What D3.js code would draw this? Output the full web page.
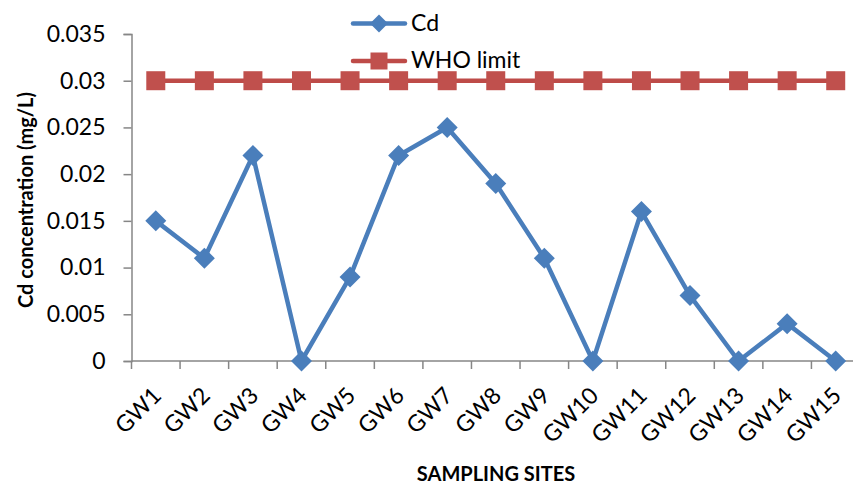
<!DOCTYPE html>
<html>
<head>
<meta charset="utf-8">
<script src="https://cdn.jsdelivr.net/npm/d3@7"></script>
<style>
  body { margin: 0; background: #fff; }
  svg { display: block; font-family: Lato, "Open Sans", sans-serif; }
</style>
</head>
<body>
<svg id="chart" width="853" height="484"></svg>
<script>
// Sampling sites and measured cadmium concentrations (mg/L)
const sites = ["GW1","GW2","GW3","GW4","GW5","GW6","GW7","GW8","GW9","GW10","GW11","GW12","GW13","GW14","GW15"];
const cdValues = [0.015, 0.011, 0.022, 0, 0.009, 0.022, 0.025, 0.019, 0.011, 0, 0.016, 0.007, 0, 0.004, 0];
const whoLimit = [0.03,0.03,0.03,0.03,0.03,0.03,0.03,0.03,0.03,0.03,0.03,0.03,0.03,0.03,0.03];
const yTicks = [0, 0.005, 0.01, 0.015, 0.02, 0.025, 0.03, 0.035];

const blue = "#4a7ebb", red = "#be4b48", redMarker = "#c0504d", axisGrey = "#868686";
const tickFont = 23;

const svg = d3.select("#chart");
const plotLeft = 131.5, plotRight = 860, plotTop = 34, plotBottom = 361;

const x = d3.scaleBand().domain(sites).range([plotLeft, plotRight]);
const y = d3.scaleLinear().domain([0, 0.035]).range([plotBottom, plotTop]);
const cx = d => x(d) + x.bandwidth() / 2;

// Y axis
const yAxis = svg.append("g").attr("transform", `translate(${plotLeft},0)`)
  .call(d3.axisLeft(y).tickValues(yTicks).tickSize(8).tickPadding(18)
    .tickFormat(d => d === 0 ? "0" : String(+d.toFixed(3))));
yAxis.select(".domain").attr("stroke", axisGrey).attr("stroke-width", 1.5);
yAxis.selectAll(".tick line").attr("stroke", axisGrey).attr("stroke-width", 1.5);
yAxis.selectAll(".tick text").attr("font-size", tickFont).attr("fill", "#000")
  .attr("font-family", "Lato, sans-serif");

// X axis with ticks at category boundaries
const xAxisG = svg.append("g").attr("transform", `translate(0,${plotBottom})`);
xAxisG.append("line").attr("x1", plotLeft).attr("x2", plotRight).attr("y1", 0).attr("y2", 0)
  .attr("stroke", axisGrey).attr("stroke-width", 1.5);
const boundaries = sites.map(s => x(s)).concat([plotRight]);
xAxisG.selectAll("line.tk").data(boundaries).join("line").attr("class", "tk")
  .attr("x1", d => d).attr("x2", d => d).attr("y1", 0).attr("y2", 8)
  .attr("stroke", axisGrey).attr("stroke-width", 1.5);
xAxisG.selectAll("text").data(sites).join("text")
  .attr("transform", d => `translate(${cx(d) + 7},36) rotate(-45)`)
  .attr("text-anchor", "end")
  .attr("font-size", tickFont).attr("fill", "#000")
  .text(d => d);

// Series lines
const line = d3.line().x((d, i) => cx(sites[i])).y(d => y(d));

svg.append("path").datum(whoLimit).attr("d", line)
  .attr("fill", "none").attr("stroke", red).attr("stroke-width", 4.5);
svg.selectAll("rect.who").data(whoLimit).join("rect").attr("class", "who")
  .attr("x", (d, i) => cx(sites[i]) - 9.5).attr("y", d => y(d) - 9.5)
  .attr("width", 19).attr("height", 19).attr("fill", redMarker);

svg.append("path").datum(cdValues).attr("d", line)
  .attr("fill", "none").attr("stroke", blue).attr("stroke-width", 4.5)
  .attr("stroke-linejoin", "round");
const diamond = "M0,-10.5L10.5,0L0,10.5L-10.5,0Z";
svg.selectAll("path.cd").data(cdValues).join("path").attr("class", "cd")
  .attr("transform", (d, i) => `translate(${cx(sites[i])},${y(d)})`)
  .attr("d", diamond).attr("fill", blue);

// Legend
const legend = [
  { name: "Cd", color: blue, shape: "diamond", y: 23.5 },
  { name: "WHO limit", color: red, shape: "square", y: 61 }
];
const lg = svg.selectAll("g.lg").data(legend).join("g").attr("class", "lg")
  .attr("transform", d => `translate(0,${d.y})`);
lg.append("line").attr("x1", 353).attr("x2", 405).attr("stroke", d => d.color)
  .attr("stroke-width", 4.5).attr("stroke-linecap", "round");
lg.filter(d => d.shape === "diamond").append("path")
  .attr("transform", "translate(379,0)").attr("d", "M0,-9L9,0L0,9L-9,0Z").attr("fill", blue);
lg.filter(d => d.shape === "square").append("rect")
  .attr("x", 370.5).attr("y", -8.5).attr("width", 17).attr("height", 17).attr("fill", redMarker);
lg.append("text").attr("x", 411).attr("y", 7).attr("font-size", tickFont)
  .attr("fill", "#000").text(d => d.name);

// Axis titles
svg.append("text").attr("transform", `translate(33,200) rotate(-90)`)
  .attr("text-anchor", "middle").attr("font-weight", "bold").attr("font-size", 20)
  .text("Cd concentration (mg/L)");
svg.append("text").attr("x", 496).attr("y", 481)
  .attr("text-anchor", "middle").attr("font-weight", "bold").attr("font-size", 20)
  .text("SAMPLING SITES");
</script>
</body>
</html>
